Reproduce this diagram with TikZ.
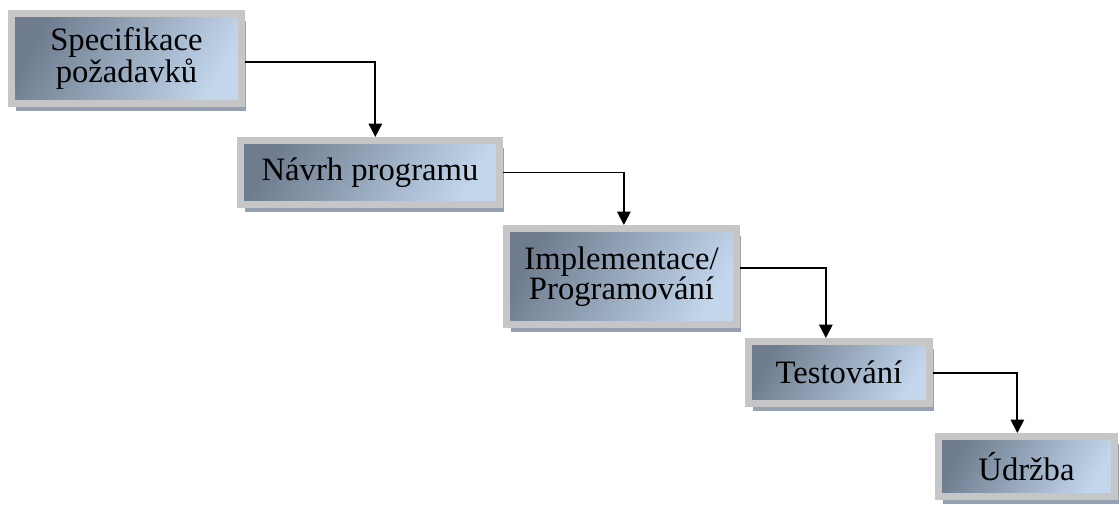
\documentclass[tikz,border=0pt]{standalone}
\usepackage{fontspec}
\setmainfont{Liberation Serif}
\usetikzlibrary{calc,shadows,arrows.meta}
\definecolor{bordergray}{HTML}{C6C6C6}
\definecolor{shadowgray}{HTML}{95A0B2}
\definecolor{darkslate}{HTML}{6E7C8E}
\definecolor{lightblue}{HTML}{C2D6EC}
\begin{document}
\begin{tikzpicture}[x=0.75pt,y=-0.75pt,
  stage/.style={rectangle, draw=bordergray, line width=7*0.75pt,
    top color=darkslate, bottom color=lightblue, shading angle=60,
    drop shadow={shadow xshift=4*0.75pt, shadow yshift=-7*0.75pt, fill=shadowgray, opacity=1},
    font=\fontsize{24.5}{22.5}\selectfont, align=center, inner sep=0pt},
  flow/.style={line width=1.4pt, -{Triangle[length=10pt,width=10pt]}}]
\useasboundingbox (0,0) rectangle (1120,504);
\node[stage, minimum width=230*0.75pt, minimum height=90*0.75pt] (b1) at (126.5,58.5) {Specifikace\\požadavků};
\node[stage, minimum width=259*0.75pt, minimum height=64*0.75pt] (b2) at (370,172.5) {Návrh programu};
\node[stage, minimum width=230*0.75pt, minimum height=96*0.75pt] (b3) at (621.5,276.5) {Implementace/\\Programování};
\node[stage, minimum width=181*0.75pt, minimum height=62*0.75pt] (b4) at (839,372.5) {Testování};
\node[stage, minimum width=176*0.75pt, minimum height=60*0.75pt] (b5) at (1026.5,466.5) {Údržba};
\coordinate (t2) at ($(b2.north west)!0.52!(b2.north east)$);
\coordinate (t3) at ($(b3.north west)!0.51!(b3.north east)$);
\coordinate (t4) at ($(b4.north west)!0.43!(b4.north east)$);
\coordinate (t5) at ($(b5.north west)!0.45!(b5.north east)$);
\coordinate (s1) at ($(b1.north east)!0.54!(b1.south east)$);
\coordinate (s2) at ($(b2.north east)!0.5!(b2.south east)$);
\coordinate (s3) at ($(b3.north east)!0.42!(b3.south east)$);
\coordinate (s4) at ($(b4.north east)!0.51!(b4.south east)$);
\draw[flow] (s1) -| (t2);
\draw[flow] (s2) -| (t3);
\draw[flow] (s3) -| (t4);
\draw[flow] (s4) -| (t5);
\end{tikzpicture}
\end{document}
